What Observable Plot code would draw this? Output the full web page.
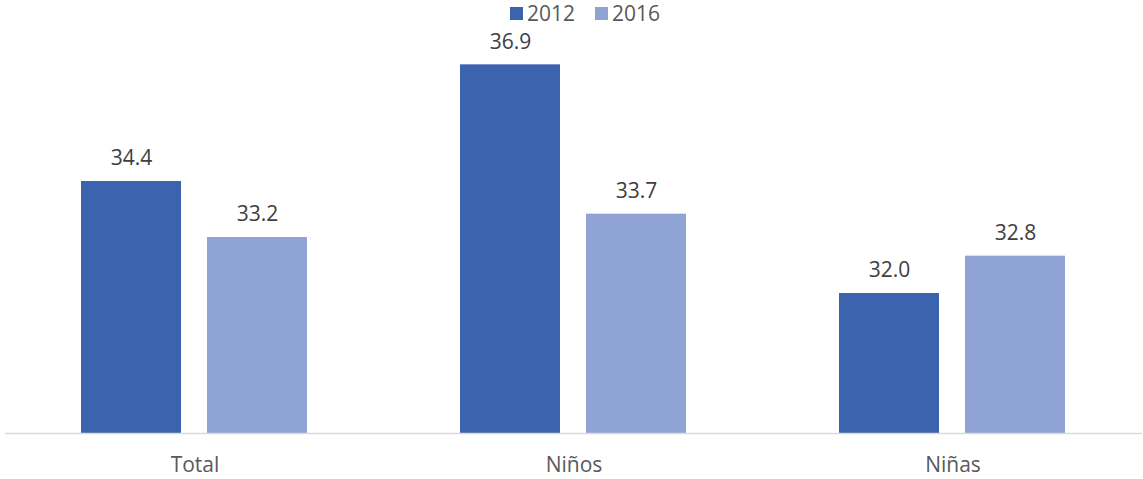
<!DOCTYPE html>
<html><head><meta charset="utf-8">
<script src="https://cdn.jsdelivr.net/npm/d3@7"></script>
<script src="https://cdn.jsdelivr.net/npm/@observablehq/plot@0.6"></script>
<style>
body{margin:0;background:#fff;font-family:"Open Sans",sans-serif;}
#wrap{position:relative;width:1143px;height:479px;}
#legend{position:absolute;top:0;left:0;width:1143px;height:28px;z-index:2;}
.sw{position:absolute;top:7px;width:13px;height:13px;}
.lt{position:absolute;top:0px;font-size:21px;color:#595959;line-height:26px;}
</style></head><body>
<div id="wrap"><div id="legend"></div></div>
<script>
const categories = ["Total", "Niños", "Niñas"];
const years = ["2012", "2016"];
const values2012 = [34.4, 36.9, 32.0];
const values2016 = [33.2, 33.7, 32.8];
const colors = ["#3b63ae", "#8fa4d5"];
const yDomain = [29, 38];

const data = [];
categories.forEach((c, i) => {
  data.push({cat: c, year: years[0], value: values2012[i]});
  data.push({cat: c, year: years[1], value: values2016[i]});
});

const chart = Plot.plot({
  width: 1143,
  height: 479,
  marginTop: 13,
  marginBottom: 46,
  marginLeft: 4,
  marginRight: 0,
  style: {fontFamily: "'Open Sans', sans-serif", background: "#fff"},
  fx: {domain: categories, padding: 0, label: null},
  x: {domain: years, type: "band", paddingInner: 0.205, paddingOuter: 0.6, axis: null},
  y: {domain: yDomain, axis: null},
  color: {domain: years, range: colors},
  marks: [
    Plot.barY(data, {fx: "cat", x: "year", y1: yDomain[0], y2: "value", fill: "year"}),
    Plot.ruleY([yDomain[0]], {stroke: "#d9d9d9", strokeWidth: 1.5}),
    Plot.text(data, {fx: "cat", x: "year", y: "value", text: d => d.value.toFixed(1), dy: -23, fontSize: 21, fill: "#404040"}),
    Plot.axisFx({anchor: "bottom", tickSize: 0, tickPadding: 24, fontSize: 21, color: "#595959", label: null})
  ]
});
document.getElementById("wrap").appendChild(chart);

const legend = document.getElementById("legend");
const legendX = [510, 595];
years.forEach((y, i) => {
  const s = document.createElement("div");
  s.className = "sw"; s.style.left = legendX[i] + "px"; s.style.background = colors[i];
  legend.appendChild(s);
  const t = document.createElement("div");
  t.className = "lt"; t.style.left = (legendX[i] + 17) + "px"; t.textContent = y;
  legend.appendChild(t);
});
</script>
</body></html>
